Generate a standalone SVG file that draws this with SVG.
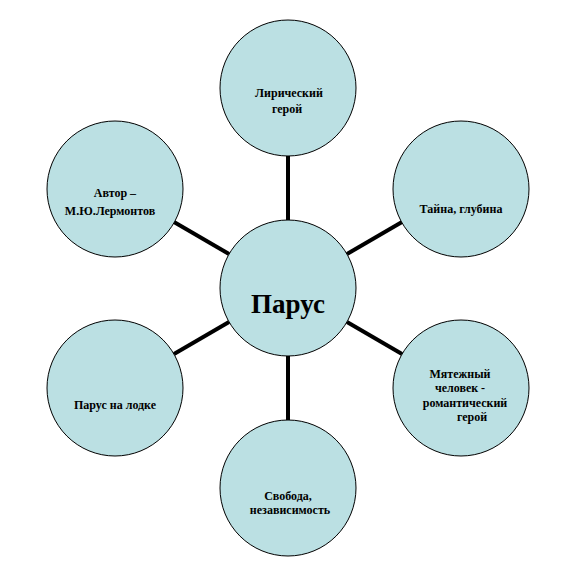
<svg xmlns="http://www.w3.org/2000/svg" width="577" height="577" viewBox="0 0 577 577">
<style>
.c{fill:#BBE0E3;stroke:#000;stroke-width:1}
.l{stroke:#000;stroke-width:4;fill:none}
</style>
<rect width="577" height="577" fill="#fff"/>
<g id="connectors">
<line class="l" x1="288" y1="220" x2="288" y2="156"/>
<line class="l" x1="288" y1="356" x2="288" y2="420"/>
<line class="l" x1="229" y1="254" x2="174" y2="222"/>
<line class="l" x1="347" y1="254" x2="402" y2="222"/>
<line class="l" x1="229" y1="322" x2="174" y2="354"/>
<line class="l" x1="347" y1="322" x2="402" y2="354"/>
</g>
<g font-family="Liberation Serif, Times New Roman, serif" font-weight="bold" font-size="12" fill="#000" text-anchor="middle">
<g id="center">
<circle class="c" cx="288" cy="288" r="68"/>
<text x="288" y="313" font-size="27">Парус</text>
</g>
<g id="lyric">
<circle class="c" cx="288" cy="88" r="68"/>
<text x="289" y="97">Лирический</text>
<text x="287" y="113">герой</text>
</g>
<g id="author">
<circle class="c" cx="115" cy="189" r="68"/>
<text x="115" y="197">Автор –</text>
<text x="110" y="215">М.Ю.Лермонтов</text>
</g>
<g id="mystery">
<circle class="c" cx="461" cy="189" r="68"/>
<text x="461" y="213">Тайна, глубина</text>
</g>
<g id="rebel">
<circle class="c" cx="461" cy="388" r="68"/>
<text x="460" y="378">Мятежный</text>
<text x="460" y="392">человек -</text>
<text x="465" y="407">романтический</text>
<text x="472" y="421">герой</text>
</g>
<g id="boat">
<circle class="c" cx="115" cy="388" r="68"/>
<text x="115" y="409">Парус на лодке</text>
</g>
<g id="freedom">
<circle class="c" cx="288" cy="488" r="68"/>
<text x="288" y="500">Свобода,</text>
<text x="290" y="514">независимость</text>
</g>
</g>
</svg>
